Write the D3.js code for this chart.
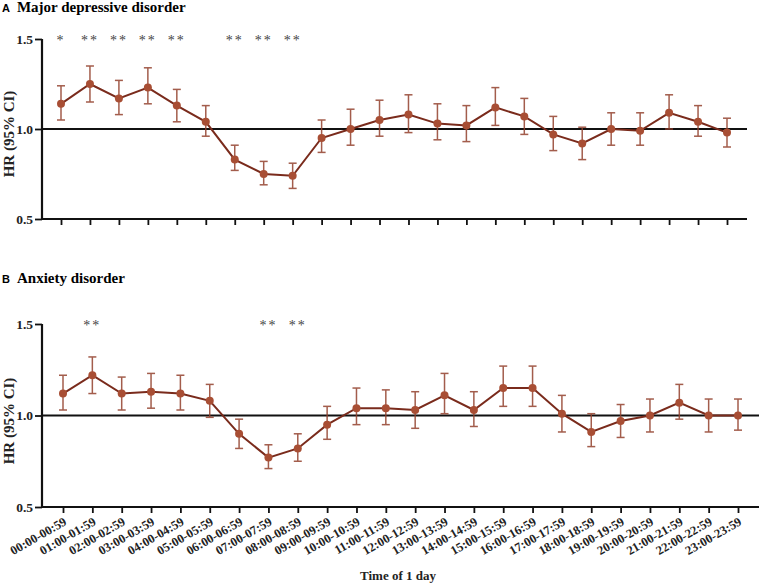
<!DOCTYPE html>
<html>
<head>
<meta charset="utf-8">
<script src="https://cdn.jsdelivr.net/npm/d3@7"></script>
<style>
  body { margin: 0; background: #fff; }
  svg { display: block; }
  .serif { font-family: "Liberation Serif", "Times New Roman", serif; font-weight: bold; }
</style>
</head>
<body>
<div id="chart"></div>
<script>
// time slots (x categories)
const slots = [
  "00:00-00:59", "01:00-01:59", "02:00-02:59", "03:00-03:59", "04:00-04:59", "05:00-05:59",
  "06:00-06:59", "07:00-07:59", "08:00-08:59", "09:00-09:59", "10:00-10:59", "11:00-11:59",
  "12:00-12:59", "13:00-13:59", "14:00-14:59", "15:00-15:59", "16:00-16:59", "17:00-17:59",
  "18:00-18:59", "19:00-19:59", "20:00-20:59", "21:00-21:59", "22:00-22:59", "23:00-23:59"
];
const yTicks = [0.5, 1.0, 1.5];

// A: major depressive disorder
const mddHR = [1.14, 1.25, 1.17, 1.23, 1.13, 1.04, 0.83, 0.75, 0.74, 0.95, 1.00, 1.05,
               1.08, 1.03, 1.02, 1.12, 1.07, 0.97, 0.92, 1.00, 0.99, 1.09, 1.04, 0.98];
const mddLow = [1.05, 1.15, 1.08, 1.14, 1.04, 0.96, 0.77, 0.69, 0.67, 0.87, 0.91, 0.96,
                0.98, 0.94, 0.93, 1.02, 0.97, 0.88, 0.83, 0.91, 0.91, 1.00, 0.96, 0.90];
const mddHigh = [1.24, 1.35, 1.27, 1.34, 1.22, 1.13, 0.91, 0.82, 0.81, 1.05, 1.11, 1.16,
                 1.19, 1.14, 1.13, 1.23, 1.17, 1.07, 1.01, 1.09, 1.09, 1.19, 1.13, 1.06];
const mddStars = ["*", "**", "**", "**", "**", "", "**", "**", "**", "", "", "",
                  "", "", "", "", "", "", "", "", "", "", "", ""];

// B: anxiety disorder
const anxHR = [1.12, 1.22, 1.12, 1.13, 1.12, 1.08, 0.90, 0.77, 0.82, 0.95, 1.04, 1.04,
               1.03, 1.11, 1.03, 1.15, 1.15, 1.01, 0.91, 0.97, 1.00, 1.07, 1.00, 1.00];
const anxLow = [1.03, 1.12, 1.03, 1.04, 1.03, 0.99, 0.82, 0.71, 0.75, 0.87, 0.95, 0.95,
                0.93, 1.01, 0.94, 1.05, 1.05, 0.91, 0.83, 0.88, 0.91, 0.98, 0.91, 0.92];
const anxHigh = [1.22, 1.32, 1.21, 1.23, 1.22, 1.17, 0.98, 0.84, 0.90, 1.05, 1.15, 1.14,
                 1.13, 1.23, 1.13, 1.27, 1.27, 1.11, 1.01, 1.06, 1.09, 1.17, 1.09, 1.09];
const anxStars = ["", "**", "", "", "", "", "", "**", "**", "", "", "",
                  "", "", "", "", "", "", "", "", "", "", "", ""];

const W = 759, H = 584;
const lineColor = "#7a2b1c", dotColor = "#a84e34", errColor = "#93412d";

const svg = d3.select("#chart").append("svg")
    .attr("width", W).attr("height", H);

function drawPanel(cfg) {
    const x = d3.scalePoint().domain(slots).range([cfg.x0, cfg.x1]);
    const y = d3.scaleLinear().domain([0.5, 1.5]).range([cfg.yBottom, cfg.yTop]);
    const g = svg.append("g");

    const rows = slots.map((s, i) => ({ s, hr: cfg.hr[i], lo: cfg.lo[i], hi: cfg.hi[i], star: cfg.stars[i] }));

    // title
    const t = g.append("text").attr("x", 2).attr("y", cfg.titleY);
    t.append("tspan").attr("font-family", "Liberation Sans, Arial, sans-serif")
        .attr("font-weight", "bold").attr("font-size", 11).text(cfg.letter);
    t.append("tspan").attr("class", "serif").attr("font-size", 15).attr("dx", 7).text(cfg.title);

    // y axis
    const yAxis = g.append("g").attr("transform", `translate(${cfg.axisX},0)`)
        .call(d3.axisLeft(y).tickValues(yTicks).tickFormat(d3.format(".1f")).tickSize(7).tickPadding(2));
    yAxis.select(".domain").attr("stroke", "#111").attr("stroke-width", 2.2)
        .attr("d", `M0,${cfg.yTop}V${cfg.yBottom}`);
    yAxis.selectAll(".tick line").attr("stroke", "#111").attr("stroke-width", 1.8);
    yAxis.selectAll(".tick text").attr("class", "serif").attr("font-size", 13.5).attr("fill", "#222");

    // x axis
    const xAxis = g.append("g").attr("transform", `translate(0,${cfg.yBottom})`)
        .call(d3.axisBottom(x).tickSize(6).tickFormat(cfg.labels ? d => d : ""));
    xAxis.select(".domain").attr("stroke", "#111").attr("stroke-width", 2.2)
        .attr("d", `M${cfg.axisX},0H${cfg.axisEnd}`);
    xAxis.selectAll(".tick line").attr("stroke", "#111").attr("stroke-width", 1.8);
    if (cfg.labels) {
        xAxis.selectAll(".tick text").attr("class", "serif").attr("font-size", 12.5).attr("fill", "#222")
            .attr("text-anchor", "end").attr("dy", null).attr("y", 0)
            .attr("transform", "translate(4,17) rotate(-30)");
    }

    // reference line at HR = 1
    g.append("line").attr("x1", cfg.axisX).attr("x2", cfg.axisEnd)
        .attr("y1", y(1)).attr("y2", y(1))
        .attr("stroke", "#111").attr("stroke-width", 2);

    // y label
    g.append("text").attr("class", "serif").attr("font-size", 15)
        .attr("transform", `translate(14,${cfg.labelY}) rotate(-90)`)
        .attr("text-anchor", "middle").attr("fill", "#222").text("HR (95% CI)");

    // error bars
    const eb = g.append("g").attr("stroke", errColor).attr("stroke-width", 1.5).attr("opacity", 0.85);
    eb.selectAll(".v").data(rows).join("line")
        .attr("x1", d => x(d.s)).attr("x2", d => x(d.s))
        .attr("y1", d => y(d.lo)).attr("y2", d => y(d.hi));
    eb.selectAll(".cap-hi").data(rows).join("line").attr("class", "cap-hi")
        .attr("x1", d => x(d.s) - 4).attr("x2", d => x(d.s) + 4)
        .attr("y1", d => y(d.hi)).attr("y2", d => y(d.hi));
    eb.selectAll(".cap-lo").data(rows).join("line").attr("class", "cap-lo")
        .attr("x1", d => x(d.s) - 4).attr("x2", d => x(d.s) + 4)
        .attr("y1", d => y(d.lo)).attr("y2", d => y(d.lo));

    // line
    g.append("path").datum(rows)
        .attr("fill", "none").attr("stroke", lineColor).attr("stroke-width", 2)
        .attr("d", d3.line().x(d => x(d.s)).y(d => y(d.hr)));

    // points
    g.selectAll(".dot").data(rows).join("circle")
        .attr("cx", d => x(d.s)).attr("cy", d => y(d.hr)).attr("r", 4)
        .attr("fill", dotColor);

    // significance stars
    g.selectAll(".star").data(rows.filter(d => d.star)).join("text")
        .attr("x", d => x(d.s)).attr("y", cfg.yTop + 6)
        .attr("text-anchor", "middle")
        .attr("font-family", "Liberation Serif, serif").attr("font-size", 14)
        .attr("letter-spacing", 2).attr("fill", "#444")
        .text(d => d.star);
}

drawPanel({
    letter: "A", title: "Major depressive disorder", titleY: 12,
    hr: mddHR, lo: mddLow, hi: mddHigh, stars: mddStars,
    x0: 61, x1: 727, axisX: 42, axisEnd: 747,
    yTop: 39, yBottom: 219, labelY: 134, labels: false
});

drawPanel({
    letter: "B", title: "Anxiety disorder", titleY: 283,
    hr: anxHR, lo: anxLow, hi: anxHigh, stars: anxStars,
    x0: 63, x1: 738, axisX: 42, axisEnd: 759,
    yTop: 324, yBottom: 507, labelY: 421, labels: true
});

// x axis title
svg.append("text").attr("class", "serif").attr("font-size", 13)
    .attr("x", 398).attr("y", 580).attr("text-anchor", "middle").attr("fill", "#222")
    .text("Time of 1 day");
</script>
</body>
</html>
